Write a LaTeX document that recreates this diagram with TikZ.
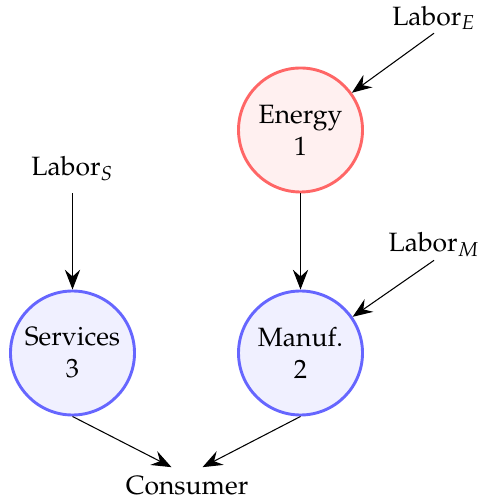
\documentclass[tikz,border=0pt]{standalone}
\usepackage[T1]{fontenc}
\usepackage{mathpazo}
\usetikzlibrary{arrows.meta,calc}
\begin{document}
\begin{tikzpicture}[x=0.3774pt,y=-0.3774pt,
  sector/.style={circle,minimum size=46.8pt,inner sep=0pt,line width=1.1pt,align=center},
  energysec/.style={sector,draw=red!60,fill=red!6},
  othersec/.style={sector,draw=blue!60,fill=blue!6},
  labor/.style={inner sep=1pt},
  flow/.style={-{Stealth[length=7.5pt,width=5.8pt,inset=2.6pt]},line width=0.4pt}]
\useasboundingbox (0,0) rectangle (479,502);
\node[energysec] (energy) at (300.5,130) {Energy\\1};
\node[othersec] (services) at (72.5,353) {Services\\3};
\node[othersec] (manuf) at (300.5,353) {Manuf.\\2};
\node[labor] (laborE) at (434,18) {Labor$_E$};
\node[labor] (laborS) at (72.5,169) {Labor$_S$};
\node[labor] (laborM) at (434,245) {Labor$_M$};
\node (consumer) at (187,486) {Consumer};
\draw[flow] (laborE.south) -- (energy);
\draw[flow] (laborM.south) -- (manuf);
\draw[flow,shorten <=3.4pt] (laborS.south) -- (services);
\draw[flow] (energy) -- (manuf);
\draw[flow] (services.south) -- ($(consumer.north)+(-15.5,0)$);
\draw[flow] (manuf.south) -- ($(consumer.north)+(15.5,0)$);
\end{tikzpicture}
\end{document}
